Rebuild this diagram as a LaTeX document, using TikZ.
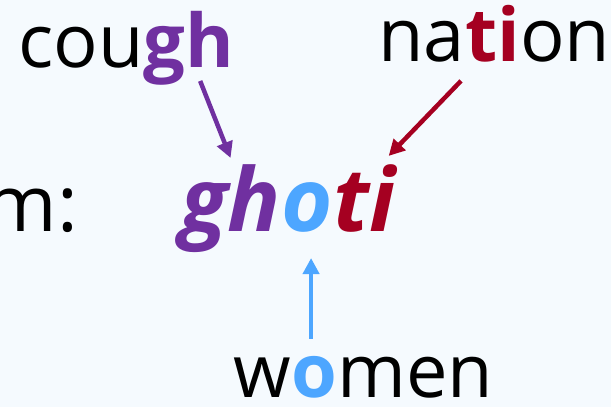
\documentclass[tikz,border=0pt]{standalone}
\usepackage{fontspec}
\setmainfont{Open Sans}
\usepackage{tikz}
\usetikzlibrary{arrows.meta}

\definecolor{ghpurple}{HTML}{7030A0}
\definecolor{oblue}{HTML}{4DA6FF}
\definecolor{tired}{HTML}{A50021}
\definecolor{paper}{HTML}{F5FAFE}

\tikzset{
    word/.style={inner sep=0pt, anchor=base west, font=\fontsize{74}{88}\selectfont},
    letters/.style={word, font=\fontsize{74}{88}\selectfont\bfseries, text=#1},
    slanted/.style={word, font=\fontsize{88}{100}\selectfont\bfseries\itshape, text=#1},
    pointer/.style={draw=#1, line width=4.5pt, -{Triangle[length=16pt,width=16pt]}}
}

\begin{document}
\begin{tikzpicture}[x=1pt, y=1pt]
                % Drawing the background
                \useasboundingbox (0,0) rectangle (611,407);
                \fill[paper] (0,0) rectangle (611,407);

                % source words
                \node[word] (cough-a) at (18,339) {cou};
                \node[letters=ghpurple] (cough-gh) at (cough-a.base east) {gh};

                \node[word] (nation-a) at (378,345) {na};
                \node[letters=tired] (nation-ti) at (nation-a.base east) {ti};
                \node[word] (nation-b) at (nation-ti.base east) {on};

                \node[word] (women-a) at (233,9) {w};
                \node[letters=oblue] (women-o) at (women-a.base east) {o};
                \node[word] (women-b) at (women-o.base east) {men};

                % the made-up word
                \node[word, anchor=base east, font=\fontsize{78}{90}\selectfont] (label) at (78,175) {m:};
                \node[slanted=ghpurple] (ghoti-gh) at (180,175) {gh};
                \node[slanted=oblue] (ghoti-o) at (ghoti-gh.base east) {o};
                \node[slanted=tired] (ghoti-ti) at (ghoti-o.base east) {ti};

                % arrows
                \draw[pointer=ghpurple] ([shift={(11,5)}]cough-gh.south) -- ([shift={(0,7)}]ghoti-gh.north);
                \draw[pointer=tired] ([shift={(-4,-18)}]nation-ti.south west) -- ([shift={(-7,9)}]ghoti-ti.north east);
                \draw[pointer=oblue] ([shift={(-3,18)}]women-o.north) -- ([shift={(-3,-25)}]women-o.north |- ghoti-o.south);
            \end{tikzpicture}
\end{document}
